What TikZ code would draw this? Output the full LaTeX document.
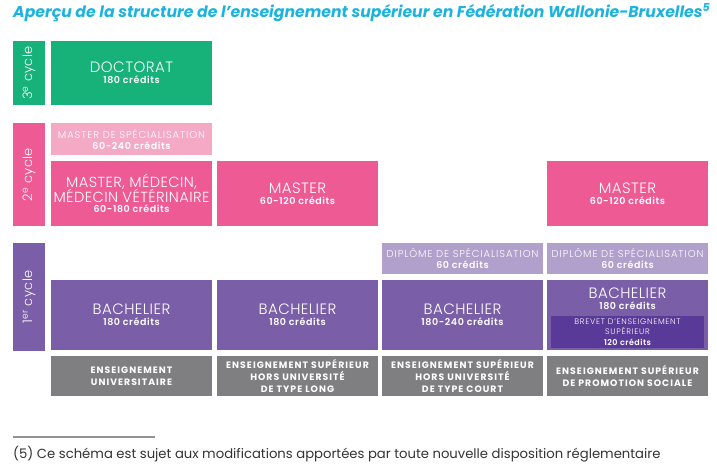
\documentclass[tikz,border=0pt]{standalone}
\usepackage{fontspec}
\setsansfont{Poppins}
\renewcommand{\familydefault}{\sfdefault}
\newfontfamily\lightf{Poppins Light}[LetterSpace=3]
\newfontfamily\lightsp{Poppins Light}[LetterSpace=9]
\newfontfamily\semib{Poppins SemiBold}[LetterSpace=6]
\newfontfamily\gbf{Poppins}[LetterSpace=11]
\definecolor{cgreen}{HTML}{16B27A}
\definecolor{cpink}{HTML}{EE5A93}
\definecolor{clpink}{HTML}{F4AAC5}
\definecolor{cpurple}{HTML}{7A5EA8}
\definecolor{clpurple}{HTML}{B19FCC}
\definecolor{cdpurple}{HTML}{5A3A98}
\definecolor{cgray}{HTML}{7F7F81}
\definecolor{ctitle}{HTML}{1DB3DE}
\definecolor{cfoot}{HTML}{333333}
\newcommand{\bigt}[1]{{\lightf\fontsize{15}{15}\selectfont #1}}
\newcommand{\bigs}[1]{{\lightf\fontsize{14.6}{15}\selectfont #1}}
\newcommand{\cred}[1]{{\semib\fontsize{9.5}{11}\selectfont #1}}
\newcommand{\smallt}[1]{{\lightsp\fontsize{10}{11}\selectfont #1}}
\newcommand{\tinyt}[1]{{\lightsp\fontsize{8}{9}\selectfont #1}}
\newcommand{\tinyc}[1]{{\semib\fontsize{8}{9}\selectfont #1}}
\begin{document}
\begin{tikzpicture}[x=1pt,y=-1pt,
  blk/.style={anchor=north west, inner sep=0pt, outer sep=0pt, text=white, align=center},
  cyc/.style={rotate=90, text=white, font=\lightf\fontsize{13}{13}\selectfont},
  gbox/.style={blk, fill=cgray, minimum height=40, font=\gbf\bfseries\fontsize{9.3}{12}\selectfont},
]
\useasboundingbox (0,0) rectangle (717,468);
% title
\node[anchor=base west, inner sep=0, text=ctitle] (title) at (13,18) {\resizebox{697pt}{!}{\bfseries\itshape\fontsize{16}{16}\selectfont Aperçu de la structure de l’enseignement supérieur en Fédération Wallonie-Bruxelles\textsuperscript{5}}};
% 3e cycle
\node[blk, fill=cgreen, minimum width=32, minimum height=64] (c3) at (13,41) {};
\node[cyc] at (c3.center) {3\textsuperscript{e} cycle};
\node[blk, fill=cgreen, minimum width=161, minimum height=64] (doc) at (51,41) {\bigt{DOCTORAT}\\[-1pt]\cred{180 crédits}};
% 2e cycle
\node[blk, fill=cpink, minimum width=32, minimum height=103] (c2) at (13,123) {};
\node[cyc] at (c2.center) {2\textsuperscript{e} cycle};
\node[blk, fill=clpink, minimum width=161, minimum height=32] (mspec) at (51,123) {\smallt{MASTER DE SPÉCIALISATION}\\[-1pt]\cred{60-240 crédits}};
\node[blk, fill=cpink, minimum width=161, minimum height=65] (mmed) at (51,161) {\bigs{MASTER, MÉDECIN,}\\[-1pt]\bigs{MÉDECIN VÉTÉRINAIRE}\\[-2pt]\cred{60-180 crédits}};
\node[blk, fill=cpink, minimum width=161, minimum height=65] (m2) at (217,161) {\bigt{MASTER}\\[-1pt]\cred{60-120 crédits}};
\node[blk, fill=cpink, minimum width=161, minimum height=65] (m4) at (547,161) {\bigt{MASTER}\\[-1pt]\cred{60-120 crédits}};
% 1er cycle
\node[blk, fill=cpurple, minimum width=32, minimum height=108] (c1) at (13,243) {};
\node[cyc] at (c1.center) {1\textsuperscript{er} cycle};
\node[blk, fill=clpurple, minimum width=161, minimum height=31] (d3) at (382,243) {\smallt{DIPLÔME DE SPÉCIALISATION}\\[-1pt]\cred{60 crédits}};
\node[blk, fill=clpurple, minimum width=161, minimum height=31] (d4) at (547,243) {\smallt{DIPLÔME DE SPÉCIALISATION}\\[-1pt]\cred{60 crédits}};
\node[blk, fill=cpurple, minimum width=161, minimum height=70] (b1) at (51,280) {\bigt{BACHELIER}\\[-1pt]\cred{180 crédits}};
\node[blk, fill=cpurple, minimum width=161, minimum height=70] (b2) at (217,280) {\bigt{BACHELIER}\\[-1pt]\cred{180 crédits}};
\node[blk, fill=cpurple, minimum width=161, minimum height=70] (b3) at (382,280) {\bigt{BACHELIER}\\[-1pt]\cred{180-240 crédits}};
\node[blk, fill=cpurple, minimum width=161, minimum height=70] (b4) at (547,280) {};
\node[text=white, align=center, inner sep=0] (b4t) at (627.5,299) {\bigt{BACHELIER}\\[-1pt]\cred{180 crédits}};
\node[blk, fill=cdpurple, minimum width=153, minimum height=32] (bes) at (551,316) {\tinyt{BREVET D’ENSEIGNEMENT}\\[-1.5pt]\tinyt{SUPÉRIEUR}\\[-1.5pt]\tinyc{120 crédits}};
% gray row
\node[gbox, minimum width=161] (g1) at (51,356) {ENSEIGNEMENT\\UNIVERSITAIRE};
\node[gbox, minimum width=161] (g2) at (217,356) {ENSEIGNEMENT SUPÉRIEUR\\HORS UNIVERSITÉ\\DE TYPE LONG};
\node[gbox, minimum width=161] (g3) at (382,356) {ENSEIGNEMENT SUPÉRIEUR\\HORS UNIVERSITÉ\\DE TYPE COURT};
\node[gbox, minimum width=161] (g4) at (547,356) {ENSEIGNEMENT SUPÉRIEUR\\DE PROMOTION SOCIALE};
% footnote
\coordinate (fl1) at (13,437);
\coordinate (fl2) at (155,437);
\draw[line width=2pt, color=gray!85] (fl1) -- (fl2);
\node[anchor=base west, inner sep=0, text=cfoot, font=\fontsize{13.2}{14}\selectfont] (foot) at (13,458) {(5) Ce schéma est sujet aux modifications apportées par toute nouvelle disposition réglementaire};
\end{tikzpicture}
\end{document}
